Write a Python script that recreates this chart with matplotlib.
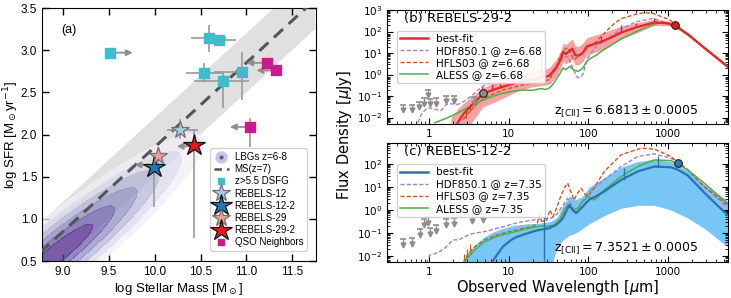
import numpy as np
import matplotlib
matplotlib.use("Agg")
import matplotlib.pyplot as plt
from matplotlib.lines import Line2D
from matplotlib import ticker

# ---------------- panel (a): SFR vs stellar mass ----------------
dsfg_mass = [9.51, 10.59, 10.70, 10.54, 10.74, 10.95]
dsfg_sfr = [2.97, 3.14, 3.12, 2.73, 2.64, 2.74]
dsfg_mass_err = [[0.0, 0.19, 0.15, 0.20, 0.31, 0.30], [0.0, 0.19, 0.19, 0.19, 0.29, 0.06]]
dsfg_sfr_err = [[0.0, 0.16, 0.03, 0.11, 0.33, 0.33], [0.0, 0.16, 0.03, 0.12, 0.11, 0.24]]

qso_mass = [11.22, 11.32, 11.04]
qso_sfr = [2.85, 2.76, 2.09]
qso_sfr_err = [[0.05, 0.04, 0.24], [0.05, 0.04, 0.10]]

# mass upper/lower limits drawn as arrows
limit_from = [9.51, 11.22, 11.32, 11.04, 9.99, 10.43]
limit_to = [9.76, 11.00, 11.11, 10.82, 9.78, 10.24]
limit_sfr = [2.97, 2.85, 2.76, 2.09, 1.64, 1.86]

rebels_names = ["REBELS-12", "REBELS-12-2", "REBELS-29", "REBELS-29-2"]
rebels_mass = [10.28, 9.99, 10.04, 10.43]
rebels_sfr = [2.05, 1.62, 1.75, 1.87]
rebels_mass_err = [[0.15, 0.0, 0.0, 0.0], [0.19, 0.0, 0.0, 0.0]]
rebels_sfr_err = [[0.10, 0.48, 0.10, 1.10], [0.13, 0.15, 0.10, 0.20]]
rebels_colors = ["#a6cee3", "#1f78b4", "#f79c98", "#e41a1c"]
rebels_edges = ["#707070", "#111111", "#707070", "#111111"]
rebels_sizes = [13, 16, 13, 16]

ms_mass = [8.75, 11.75]
ms_sfr = [0.60, 3.60]
ms_scatter = 0.35

# LBG density ellipse: centre, widths along / across, slope of long axis
lbg_center = (8.92, 0.58)
lbg_sigma_along = 0.53
lbg_sigma_across = 0.10
lbg_slope = 0.88

# ---------------- panel (b): REBELS-29-2 SED (log10 flux in uJy) ----------------
b_fit_lam = [1.9, 2.3, 2.7, 3.5, 4.8, 6.5, 8.5, 12.5, 18.3, 22, 28, 32.5, 39.4, 45, 48, 52, 58,
             63, 68, 75, 85, 95, 103, 125, 151, 200, 256, 400, 668, 1000, 1210, 1800, 2800, 5500]
b_fit = [-2.7, -2.25, -1.85, -1.4, -0.9, -0.7, -0.57, -0.38, -0.25, -0.22, -0.12, -0.05, 0.31, 0.7,
         1.05, 0.95, 1.1, 1.2, 0.9, 0.88, 1.0, 1.3, 1.35, 1.45, 1.55, 1.75, 1.95, 2.2, 2.42, 2.38,
         2.28, 1.85, 1.25, 0.38]
b_fit_hi = [-2.0, -1.6, -1.35, -1.0, -0.62, -0.4, -0.2, 0.0, 0.15, 0.2, 0.25, 0.32, 0.7, 1.1, 1.45,
            1.4, 1.55, 1.65, 1.35, 1.3, 1.45, 1.7, 1.75, 1.85, 1.93, 2.1, 2.25, 2.4, 2.56, 2.48,
            2.34, 1.9, 1.3, 0.43]
b_fit_lo = [-3.5, -3.2, -2.8, -2.2, -1.5, -1.3, -1.1, -0.8, -0.6, -0.55, -0.5, -0.45, -0.1, 0.3,
            0.6, 0.5, 0.6, 0.7, 0.45, 0.45, 0.6, 0.9, 0.95, 1.05, 1.16, 1.4, 1.65, 1.93, 2.28, 2.26,
            2.2, 1.78, 1.18, 0.3]
b_spike_lam = [4.7, 6.2, 7.7, 11.3, 25.3, 144, 256, 394, 668]
b_spike_lo = [-0.95, -0.75, -0.62, -0.42, -0.15, 1.52, 1.95, 2.2, 2.42]
b_spike_hi = [-0.55, -0.45, -0.3, -0.15, 0.85, 1.78, 2.3, 2.4, 2.62]

b_aless_lam = [1.19, 1.5, 1.92, 2.5, 3.1, 4.0, 5.0, 6.5, 8.1, 10.5, 13.1, 16, 19.2, 22, 25.6, 29,
               32.5, 36, 39.4, 44, 48, 52, 58, 66, 75, 85, 93, 103, 125, 151, 200, 256, 400, 637,
               830, 1190, 1800, 2820, 5500]
b_aless = [-2.24, -2.1, -1.93, -1.72, -1.54, -1.33, -1.16, -1.0, -0.89, -0.8, -0.74, -0.72, -0.74,
           -0.7, -0.65, -0.7, -0.62, -0.45, -0.23, 0.05, 0.31, 0.22, 0.38, 0.2, 0.15, 0.3, 0.55,
           0.72, 0.9, 1.12, 1.4, 1.65, 2.0, 2.32, 2.42, 2.3, 1.8, 1.25, 0.38]

b_hdf_lam = [0.73, 0.81, 0.89, 0.98, 1.19, 1.44, 1.66, 1.92, 2.33, 2.82, 3.41, 4.14, 5.0, 7.0, 10.3,
             15.1, 22.2, 26.8, 32, 39.4, 47.8, 55.2, 63.7, 70, 73.6, 80, 85, 98, 125, 182, 269,
             394, 637, 1029, 1210, 1800, 2820, 5500]
b_hdf = [-2.24, -1.85, -1.67, -1.54, -1.62, -1.67, -1.39, -1.36, -1.39, -1.23, -1.0, -0.72, -0.5,
         -0.31, -0.185, -0.11, -0.23, -0.11, -0.05, 0.38, 0.77, 0.85, 0.31, -0.05, -0.15, -0.1,
         0.0, 0.77, 1.31, 1.70, 2.16, 2.45, 2.6, 2.39, 2.3, 1.82, 1.25, 0.38]

b_hfls_lam = [2.7, 3.1, 3.6, 4.2, 5.0, 6.5, 8.5, 13.1, 18.3, 25.6, 32.5, 39.4, 45, 50, 55, 60, 65,
              70, 77, 85, 95, 103, 119, 151, 200, 256, 394, 501, 637, 1029, 1210, 1800, 2820, 5500]
b_hfls = [-2.1, -1.8, -1.55, -1.3, -1.08, -0.9, -0.72, -0.54, -0.42, -0.34, -0.23, 0.31, 0.9, 1.15,
          1.25, 1.0, 0.7, 0.75, 0.9, 1.0, 1.2, 1.31, 1.45, 1.85, 2.3, 2.6, 2.8, 2.88, 2.85, 2.55,
          2.35, 1.84, 1.26, 0.38]
b_hfls_spike_lam = [2.9, 3.3, 3.8]
b_hfls_spike_lo = [-2.0, -1.72, -1.45]
b_hfls_spike_hi = [-1.55, -1.35, -1.15]

b_limit_lam = [0.47, 0.61, 0.76, 0.87, 0.98, 1.03, 1.25, 1.66, 2.07, 3.7]
b_limit = [-1.4, -1.4, -1.27, -1.1, -0.7, -1.12, -1.1, -0.98, -0.98, -1.06]
b_det_lam = [4.8, 1210]
b_det = [-0.85, 2.28]
b_det_colors = ["#8c8c8c", "#e41a1c"]

# ---------------- panel (c): REBELS-12-2 SED ----------------
c_fit_lam = [6.1, 7.0, 8.5, 10.8, 12.4, 15, 18.3, 22, 26.8, 32, 39.4, 44, 47.8, 52, 57.9, 63, 70,
             77, 85, 93, 103, 125, 158, 256, 415, 668, 1075, 1310, 1750, 2820, 5500]
c_fit = [-2.3, -2.0, -1.59, -1.3, -1.19, -1.08, -0.99, -0.9, -0.84, -0.8, -0.65, -0.5, -0.36, -0.1,
         0.22, 0.0, -0.14, 0.0, 0.14, 0.3, 0.45, 0.6, 0.8, 1.3, 1.67, 1.88, 1.85, 1.75, 1.5, 0.75,
         -0.22]
c_band_lam = [2.6, 3.0, 4.0, 5.0, 6.5, 8.5, 10.8, 13, 17.4, 22, 28, 34, 41, 48, 58, 70, 85, 103,
              158, 256, 415, 668, 1075, 1750, 2820, 5500]
c_band_hi = [-2.3, -1.9, -1.45, -1.16, -0.95, -0.8, -0.7, -0.65, -0.6, -0.59, -0.55, -0.5, -0.3,
             0.2, 0.6, 0.45, 0.6, 1.0, 1.4, 1.85, 2.1, 2.2, 2.1, 1.7, 1.1, 0.4]
c_band_lo = [-4, -4, -4, -4, -4, -4, -4, -4, -4, -4, -4, -2.5, -1.6, -1.3, -1.1, -1.0, -0.8, -0.6,
             -0.25, 0.07, 0.2, 0.2, 0.0, -0.35, -0.8, -1.59]
c_spike_lam = [28, 276, 738]
c_spike_lo = [-2.2, 1.3, 1.88]
c_spike_hi = [-0.3, 1.81, 2.32]

c_aless_lam = [2.56, 3.1, 3.76, 5.0, 7.35, 10.8, 15.8, 20, 25.6, 30, 37.6, 44, 50, 55, 60, 66, 75,
               81, 90, 98, 110, 119, 135, 158, 256, 415, 668, 1075, 1750, 2820, 5500]
c_aless = [-2.39, -2.06, -1.74, -1.38, -1.13, -0.99, -0.84, -0.75, -0.70, -0.72, -0.65, -0.4, 0.0,
           0.22, 0.1, 0.0, 0.1, 0.29, 0.45, 0.58, 0.5, 0.43, 0.6, 0.87, 1.45, 1.88, 2.17, 2.14,
           1.74, 1.16, 0.29]

c_hfls_lam = [2.7, 3.0, 3.4, 3.9, 5.0, 7.0, 10, 15, 20, 23, 24.5, 26, 30, 33, 36, 40, 44, 50, 55,
              60, 66, 72, 81, 90, 98, 110, 125, 158, 256, 457, 668, 1075, 1750, 2820, 5500]
c_hfls = [-2.3, -2.0, -1.75, -1.55, -1.3, -1.1, -0.95, -0.8, -0.72, -0.55, -0.1, -0.5, -0.45, 0.0,
          -0.3, 0.1, 0.5, 0.95, 1.16, 0.8, 0.43, 0.7, 0.94, 0.7, 0.58, 0.8, 1.1, 1.67, 2.39, 2.68,
          2.64, 2.32, 1.74, 1.01, 0.22]
c_hfls_spike_lam = [2.8, 3.05, 3.3]
c_hfls_spike_lo = [-2.3, -2.05, -1.85]
c_hfls_spike_hi = [-1.9, -1.7, -1.5]

c_hdf_lam = [0.94, 1.03, 1.2, 1.37, 1.58, 1.83, 2.0, 2.4, 2.82, 3.4, 4.1, 5.0, 8.1, 13, 21, 34, 40,
             48, 55, 62, 66, 70, 75, 81, 90, 98, 158, 256, 415, 668, 1075, 1750, 2820, 5500]
c_hdf = [-2.32, -1.96, -1.9, -1.81, -1.67, -1.45, -1.30, -1.3, -1.16, -1.04, -0.99, -0.94, -0.75,
         -0.55, -0.43, -0.36, -0.2, 0.2, 0.51, 0.2, 0.0, -0.12, 0.0, 0.29, 0.5, 0.72, 1.30, 1.88,
         2.32, 2.43, 2.25, 1.74, 1.01, 0.14]

c_limit_lam = [0.47, 0.61, 0.77, 0.87, 0.98, 1.03, 1.25, 1.66, 2.1, 3.5, 4.8]
c_limit = [-1.28, -1.2, -0.84, -0.41, -0.31, -0.77, -0.65, -0.41, -0.36, -0.24, -0.16]
c_det_lam = [1310]
c_det = [2.03]
c_det_colors = ["#2c7bb6"]

SANS_A = "Liberation Sans"
GREY = "#9a9a9a"


def lin(v):
    return 10 ** np.asarray(v, dtype=float)


def draw_mass_sfr(ax):
    # main sequence band and line
    m = np.array(ms_mass)
    s = np.array(ms_sfr)
    ax.fill_between(m, s - ms_scatter, s + ms_scatter, color="#e0e0e0", lw=0, zorder=1)

    # LBG density
    xx, yy = np.meshgrid(np.linspace(8.7, 11.8, 300), np.linspace(0.4, 3.6, 300))
    u = np.array([1.0, lbg_slope]) / np.hypot(1.0, lbg_slope)
    dx, dy = xx - lbg_center[0], yy - lbg_center[1]
    a = dx * u[0] + dy * u[1]
    c = -dx * u[1] + dy * u[0]
    z = np.exp(-0.5 * ((a / lbg_sigma_along) ** 2 + (c / lbg_sigma_across) ** 2))
    radii = np.array([4.0, 3.4, 2.8, 2.2, 1.6, 1.0])
    levels = list(np.exp(-0.5 * radii ** 2)) + [1.01]
    cols = plt.cm.Purples(np.linspace(0.1, 0.85, len(radii)))
    ax.contourf(xx, yy, z, levels=levels, colors=cols, alpha=0.75, zorder=2)

    ax.plot(m, s, ls=(0, (4, 2.5)), color="#555555", lw=2.2, zorder=3)

    # error bars
    ax.errorbar(dsfg_mass, dsfg_sfr, xerr=dsfg_mass_err, yerr=dsfg_sfr_err, fmt="none",
                ecolor=GREY, elinewidth=1.2, zorder=4)
    ax.errorbar(qso_mass, qso_sfr, yerr=qso_sfr_err, fmt="none", ecolor=GREY,
                elinewidth=1.2, zorder=4)
    ax.errorbar(rebels_mass, rebels_sfr, xerr=rebels_mass_err, yerr=rebels_sfr_err, fmt="none",
                ecolor=GREY, elinewidth=1.2, zorder=4)
    for m0, m1, s0 in zip(limit_from, limit_to, limit_sfr):
        ax.annotate("", xy=(m1, s0), xytext=(m0, s0),
                    arrowprops=dict(arrowstyle="-|>", color="#8f8f8f", lw=1.3,
                                    mutation_scale=9, shrinkA=0, shrinkB=0), zorder=4)

    ax.plot(dsfg_mass, dsfg_sfr, "s", ms=7, color="#3dbdcb", zorder=5)
    ax.plot(qso_mass, qso_sfr, "s", ms=7, color="#c8198d", zorder=5)
    for i in range(len(rebels_names)):
        ax.plot(rebels_mass[i], rebels_sfr[i], "*", ms=rebels_sizes[i], mfc=rebels_colors[i],
                mec=rebels_edges[i], mew=0.9, zorder=6)

    ax.set_xlim(8.77, 11.76)
    ax.set_ylim(0.5, 3.5)
    ax.set_xticks([9.0, 9.5, 10.0, 10.5, 11.0, 11.5])
    ax.set_yticks([0.5, 1.0, 1.5, 2.0, 2.5, 3.0, 3.5])
    ax.xaxis.set_major_formatter(ticker.FormatStrFormatter("%.1f"))
    ax.yaxis.set_major_formatter(ticker.FormatStrFormatter("%.1f"))
    ax.tick_params(direction="in", top=True, right=True, length=5, width=1, labelsize=8.5)
    for lbl in ax.get_xticklabels() + ax.get_yticklabels():
        lbl.set_family(SANS_A)
    ax.set_xlabel(r"log Stellar Mass [M$_\odot$]", fontsize=9.5, family=SANS_A, labelpad=2)
    ax.set_ylabel(r"log SFR [M$_\odot$yr$^{-1}$]", fontsize=9.5, family=SANS_A)
    ax.yaxis.set_label_coords(-0.077, 0.5)
    ax.text(0.07, 0.9, "(a)", transform=ax.transAxes, fontsize=9, family=SANS_A)

    handles = [
        Line2D([], [], ls="none", marker="o", ms=6, mfc="#6a51a3", mec="#cdc5e6", mew=3),
        Line2D([], [], color="#555555", ls=(0, (3, 2)), lw=1.8),
        Line2D([], [], ls="none", marker="s", ms=5, color="#3dbdcb"),
    ]
    for i in range(len(rebels_names)):
        handles.append(Line2D([], [], ls="none", marker="*", ms=rebels_sizes[i],
                              mfc=rebels_colors[i], mec=rebels_edges[i], mew=0.9))
    handles.append(Line2D([], [], ls="none", marker="s", ms=5, color="#c8198d"))
    labels = ["LBGs z=6-8", "MS(z=7)", "z>5.5 DSFG"] + rebels_names + ["QSO Neighbors"]
    ax.legend(handles, labels, loc="lower right", bbox_to_anchor=(0.985, 0.02),
              prop={"family": SANS_A, "size": 7}, handlelength=1.5, labelspacing=0.22,
              borderpad=0.4, handletextpad=0.6, framealpha=0.9, edgecolor="#cccccc")


def draw_sed(ax, fit_color, band_color, fit, band, spikes, aless, hdf, hfls, hfls_spikes,
             limits, dets, zlabel, title, zstr, ylim):
    ax.fill_between(band[0], lin(band[1]), lin(band[2]), color=band_color, lw=0, zorder=1)
    ax.plot(hdf[0], lin(hdf[1]), ls=(0, (3, 1.5)), color="#a37fcc", lw=1.0, zorder=2)
    ax.plot(hfls[0], lin(hfls[1]), ls=(0, (3, 1.5)), color="#c55a24", lw=1.0, zorder=2)
    ax.vlines(hfls_spikes[0], lin(hfls_spikes[1]), lin(hfls_spikes[2]), color="#c55a24",
              lw=0.9, zorder=2)
    ax.plot(aless[0], lin(aless[1]), color="#4daf4a", lw=1.1, zorder=3)
    ax.plot(fit[0], lin(fit[1]), color=fit_color, lw=1.6, zorder=4)
    ax.vlines(spikes[0], lin(spikes[1]), lin(spikes[2]), color=fit_color, lw=1.0, zorder=4)

    lam, f = np.asarray(limits[0]), lin(limits[1])
    ax.vlines(lam, f * 0.55, f, color="#8c8c8c", lw=1.0, zorder=5)
    ax.plot(lam, f, "_", ms=5, mew=1.2, color="#8c8c8c", zorder=5)
    ax.plot(lam, f * 0.55, "v", ms=3.5, color="#8c8c8c", zorder=5)
    for x, y, col in zip(dets[0], dets[1], dets[2]):
        ax.plot(x, 10 ** y, "o", ms=5.5, mfc=col, mec="#222222", mew=0.8, zorder=6)

    ax.set_xscale("log")
    ax.set_yscale("log")
    ax.set_xlim(0.3, 5600)
    ax.set_ylim(*ylim)
    ax.xaxis.set_major_formatter(ticker.FuncFormatter(lambda v, _: f"{v:g}"))
    ax.tick_params(which="both", direction="in", top=True, right=True, labelsize=7.5)
    ax.tick_params(which="major", length=4)
    ax.tick_params(which="minor", length=2)
    ax.text(0.05, 0.925, title, transform=ax.transAxes, fontsize=9.5, va="center")
    ax.text(0.49, 0.11, zstr, transform=ax.transAxes, fontsize=9, va="center")

    handles = [
        Line2D([], [], color=fit_color, lw=1.8),
        Line2D([], [], color="#a37fcc", ls=(0, (3, 1.5)), lw=1.0),
        Line2D([], [], color="#c55a24", ls=(0, (3, 1.5)), lw=1.0),
        Line2D([], [], color="#4daf4a", lw=1.1),
    ]
    labels = ["best-fit", f"HDF850.1 @ z={zlabel}", f"HFLS03 @ z={zlabel}", f"ALESS @ z={zlabel}"]
    ax.legend(handles, labels, loc="upper left", bbox_to_anchor=(0.015, 0.865), fontsize=7.5,
              handlelength=2.6, labelspacing=0.2, borderpad=0.3, framealpha=0.9,
              edgecolor="#cccccc")


if __name__ == "__main__":
    fig = plt.figure(figsize=(7.31, 2.98), dpi=100)
    ax_a = fig.add_axes([42 / 731, 37 / 298, 274 / 731, 253 / 298])
    ax_b = fig.add_axes([387 / 731, 174 / 298, 341 / 731, 114 / 298])
    ax_c = fig.add_axes([387 / 731, 36 / 298, 341 / 731, 119 / 298])

    draw_mass_sfr(ax_a)

    draw_sed(ax_b, "#e8262b", "#f6a2a2",
             (b_fit_lam, b_fit), (b_fit_lam, b_fit_lo, b_fit_hi),
             (b_spike_lam, b_spike_lo, b_spike_hi),
             (b_aless_lam, b_aless), (b_hdf_lam, b_hdf), (b_hfls_lam, b_hfls),
             (b_hfls_spike_lam, b_hfls_spike_lo, b_hfls_spike_hi),
             (b_limit_lam, b_limit), (b_det_lam, b_det, b_det_colors),
             "6.68", "(b) REBELS-29-2", r"z$_{\rm [CII]}=6.6813\pm0.0005$", (5e-3, 1e3))

    draw_sed(ax_c, "#2c72b3", "#78c6f5",
             (c_fit_lam, c_fit), (c_band_lam, c_band_lo, c_band_hi),
             (c_spike_lam, c_spike_lo, c_spike_hi),
             (c_aless_lam, c_aless), (c_hdf_lam, c_hdf), (c_hfls_lam, c_hfls),
             (c_hfls_spike_lam, c_hfls_spike_lo, c_hfls_spike_hi),
             (c_limit_lam, c_limit), (c_det_lam, c_det, c_det_colors),
             "7.35", "(c) REBELS-12-2", r"z$_{\rm [CII]}=7.3521\pm0.0005$", (5.5e-3, 8e2))

    ax_c.set_xlabel(r"Observed Wavelength [$\mu$m]", fontsize=10.5, labelpad=1)
    fig.text(345 / 731, 0.545, r"Flux Density [$\mu$Jy]", rotation=90, fontsize=10.5,
             ha="center", va="center")

    fig.savefig("out.png", dpi=100)
